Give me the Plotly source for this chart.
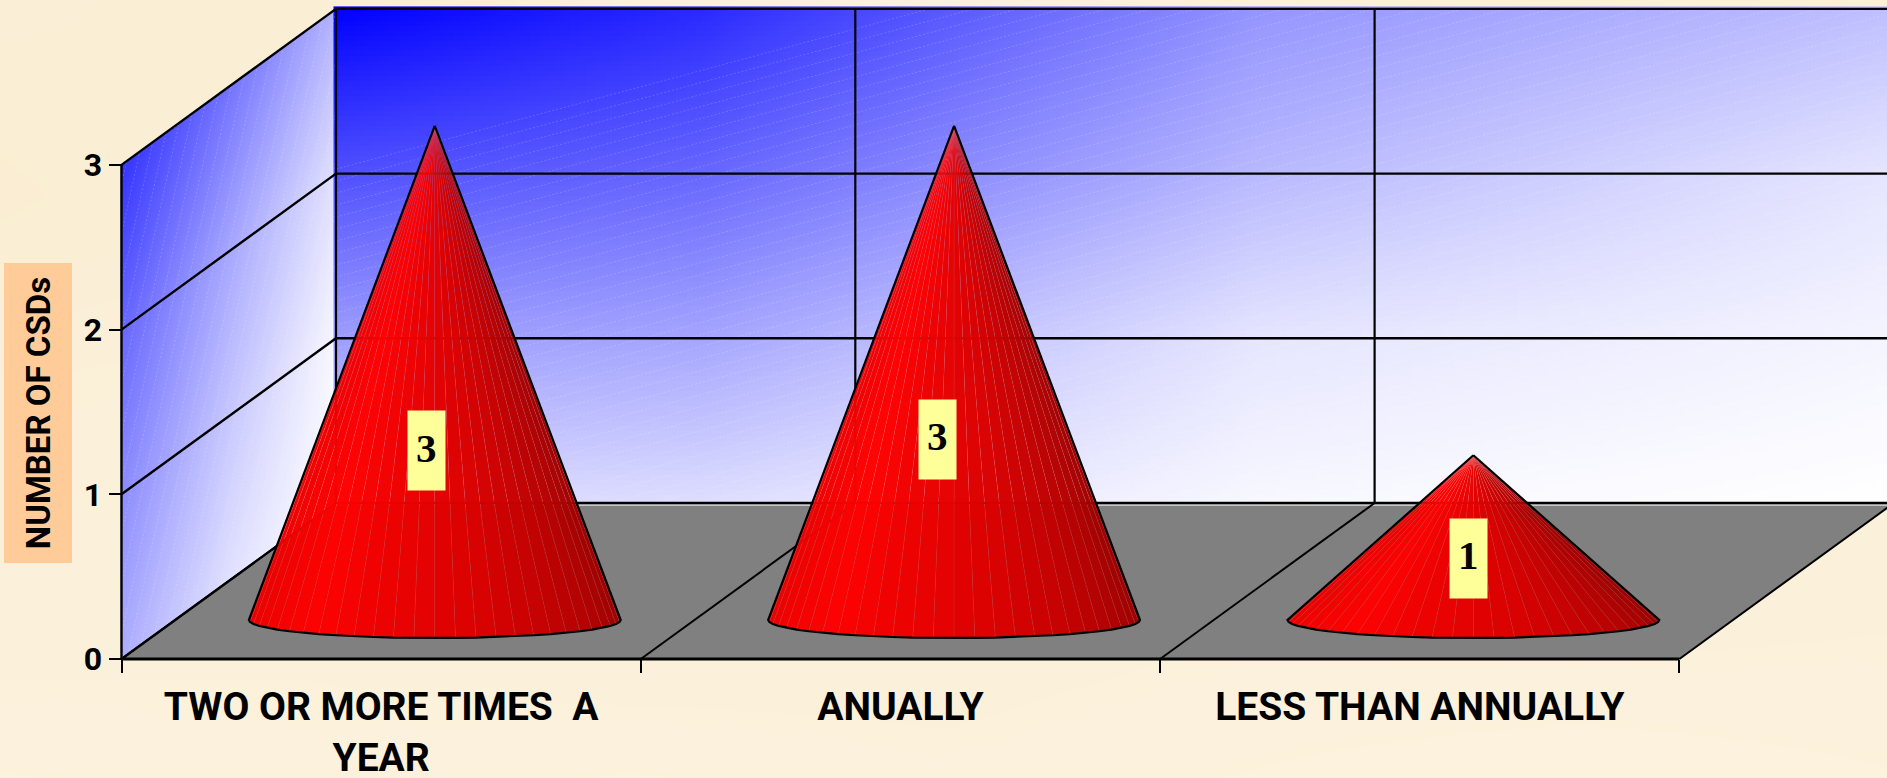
# -*- coding: utf-8 -*-
"""Pseudo-3D cone chart: number of CSDs by frequency."""
import numpy as np
import plotly.graph_objects as go

CATEGORIES = ["TWO OR MORE TIMES  A<br>YEAR", "ANUALLY", "LESS THAN ANNUALLY"]
CSD_COUNTS = [3, 3, 1]
Y_TICKS = [0, 1, 2, 3]
Y_TITLE = "NUMBER OF CSDs"

W, H = 1887, 778
X0_PX, CAT_PX = 121.5, 519.3   # front axis start, width of one category
Y0_PX, UNIT_PX = 659.0, 164.7  # front floor line, height of one count
DEPTH_X = 214.5 / CAT_PX       # how far the back wall is shifted
DEPTH_Y = 156.0 / UNIT_PX
X_RANGE = [-X0_PX / CAT_PX, (W - X0_PX) / CAT_PX]
Y_RANGE = [-(H - Y0_PX) / UNIT_PX, Y0_PX / UNIT_PX]

PAPER = "#FBF1DC"
PAPER_TONES = [[0, "#FDF4E2"], [1, "#F9ECD0"]]
BLUE_TO_WHITE = [[0, "#0000FF"], [1, "#FFFFFF"]]

# mottling of the paper, coarse reading from the picture (top row first)
PAPER_MOTTLE = [[0.65, 0.80, 0.55, 0.50, 0.55, 0.50, 0.50],
                [0.85, 0.60, 0.50, 0.50, 0.50, 0.50, 0.45],
                [0.55, 0.50, 0.50, 0.50, 0.50, 0.45, 0.45],
                [0.45, 0.40, 0.50, 0.45, 0.40, 0.45, 0.40],
                [0.30, 0.35, 0.30, 0.35, 0.30, 0.25, 0.30]]

# how far each wall has faded to white, read at a few places on the picture
BACK_U = [0, 0.235, 0.59, 1]
BACK_V = [0, 0.33, 0.67, 1]
BACK_SHADE = [[0.00, 0.16, 0.58, 0.75],
              [0.31, 0.40, 0.72, 0.90],
              [0.62, 0.65, 0.90, 0.96],
              [0.85, 0.87, 0.97, 1.00]]
SIDE_U = [0, 0.5, 1]
SIDE_V = [0, 0.33, 0.67, 1]
SIDE_SHADE = [[0.20, 0.45, 0.70],
              [0.40, 0.65, 0.88],
              [0.55, 0.78, 0.97],
              [0.68, 0.88, 1.00]]

# where the value boxes sit on the cones
BOX_X = [0.587, 1.571, 2.594]
BOX_Y = [1.263, 1.333, 0.613]

CONE_DEPTH = 0.25      # fraction of floor depth at the cone axis
CONE_RADIUS = 0.358
CONE_FLAT = 18 / UNIT_PX
FACETS = 28


def lookup(table, us, vs, u, v):
    """Bilinear read of a shade table."""
    row = [np.interp(u, us, r) for r in table]
    return float(np.interp(v, vs, row))


def facet_color(s):
    # s: 0 left rim, 1 right rim
    r = np.interp(s, [0, 0.28, 0.6, 1], [232, 255, 216, 150])
    return f"rgba({int(r)},0,0,0.985)"


def add_line(fig, x, y, width=2.0, color="#000000", dash=None):
    fig.add_trace(go.Scatter(x=x, y=y, mode="lines", line=dict(color=color, width=width, dash=dash),
                             hoverinfo="skip", showlegend=False, connectgaps=False))


def hatch(fig, inside, starts, dx, dy, length):
    """Faint banding lines, kept to the part of each line where inside() holds."""
    xs, ys = [], []
    t = np.linspace(0, length, 600)
    for sx, sy in starts:
        px, py = sx + dx * t, sy + dy * t
        mask = inside(px, py)
        if mask.any():
            idx = np.where(mask)[0]
            xs += [px[idx[0]], px[idx[-1]], None]
            ys += [py[idx[0]], py[idx[-1]], None]
    add_line(fig, xs, ys, 0.8, "rgba(255,255,255,0.22)", "2px,2px")


fig = go.Figure()

# paper
fig.add_trace(go.Heatmap(x=np.linspace(X_RANGE[0], X_RANGE[1], 7), y=np.linspace(Y_RANGE[1], Y_RANGE[0], 5),
                         z=PAPER_MOTTLE, colorscale=PAPER_TONES, zmin=0, zmax=1, zsmooth="best",
                         showscale=False, hoverinfo="skip"))

# side wall
side_x = np.linspace(0, DEPTH_X, 144)
side_y = np.linspace(0, 3 + DEPTH_Y, 360)
side_z = np.full((len(side_y), len(side_x)), np.nan)
for i, sx in enumerate(side_x):
    u = sx / DEPTH_X
    floor_y = u * DEPTH_Y
    for j, sy in enumerate(side_y):
        if floor_y <= sy <= floor_y + 3:
            side_z[j, i] = lookup(SIDE_SHADE, SIDE_U, SIDE_V, u, (3 + floor_y - sy) / 3)
fig.add_trace(go.Heatmap(x=side_x, y=side_y, z=side_z, colorscale=BLUE_TO_WHITE, zmin=0, zmax=1,
                         showscale=False, hoverinfo="skip"))

# back wall
back_x = np.linspace(DEPTH_X, 3 + DEPTH_X, 310)
back_y = np.linspace(DEPTH_Y, 3 + DEPTH_Y, 100)
back_z = [[lookup(BACK_SHADE, BACK_U, BACK_V, (bx - DEPTH_X) / 3, (3 + DEPTH_Y - by) / 3)
           for bx in back_x] for by in back_y]
fig.add_trace(go.Heatmap(x=back_x, y=back_y, z=back_z, colorscale=BLUE_TO_WHITE, zmin=0, zmax=1,
                         showscale=False, hoverinfo="skip"))

# banding on the walls
hatch(fig,
      lambda px, py: (px >= DEPTH_X) & (px <= X_RANGE[1]) & (py >= DEPTH_Y) & (py <= 3 + DEPTH_Y),
      [(DEPTH_X, DEPTH_Y + n * 12 / UNIT_PX - 3.0) for n in range(0, 70)],
      1.0, 0.27 * CAT_PX / UNIT_PX, 3.6)
hatch(fig,
      lambda px, py: (px >= 0) & (px <= DEPTH_X) & (py >= px * DEPTH_Y / DEPTH_X) & (py <= 3 + px * DEPTH_Y / DEPTH_X),
      [(n * 11 / CAT_PX - 0.9, 0) for n in range(0, 105)],
      0.22 * UNIT_PX / CAT_PX, 1.0, 4.0)

# floor
fig.add_trace(go.Scatter(x=[0, 3, 3 + DEPTH_X, DEPTH_X, 0], y=[0, 0, DEPTH_Y, DEPTH_Y, 0],
                         mode="lines", fill="toself", fillcolor="#808080",
                         line=dict(color="rgba(0,0,0,0)", width=0),
                         hoverinfo="skip", showlegend=False))

# wall frame and grid
add_line(fig, [DEPTH_X, 3 + DEPTH_X], [DEPTH_Y - 0.012] * 2, 1.5, "rgba(255,255,255,0.75)")
for tick in Y_TICKS:
    add_line(fig, [0, DEPTH_X, 3 + DEPTH_X], [tick, tick + DEPTH_Y, tick + DEPTH_Y], 2.4)
for i in range(4):
    add_line(fig, [i, i + DEPTH_X], [0, DEPTH_Y], 2.0)
    add_line(fig, [i + DEPTH_X, i + DEPTH_X], [DEPTH_Y, 3 + DEPTH_Y], 2.2)
add_line(fig, [0, 0], [0, 3], 2.4)
add_line(fig, [0, 3], [0, 0], 2.8)

# cones
for i, count in enumerate(CSD_COUNTS):
    cx = i + 0.5 + CONE_DEPTH * DEPTH_X
    cy = CONE_DEPTH * DEPTH_Y
    apex_y = cy + count
    angles = np.linspace(np.pi, 2 * np.pi, FACETS + 1)
    rim_x = cx + CONE_RADIUS * np.cos(angles)
    rim_y = cy + CONE_FLAT * np.sin(angles)
    for k in range(FACETS):
        fig.add_trace(go.Scatter(
            x=[cx, rim_x[k], rim_x[k + 1], cx], y=[apex_y, rim_y[k], rim_y[k + 1], apex_y],
            mode="lines", fill="toself", fillcolor=facet_color((k + 0.5) / FACETS),
            line=dict(width=0.5, color="rgba(255,190,190,0.14)"),
            hoverinfo="skip", showlegend=False,
        ))
    add_line(fig, [cx, *rim_x, cx], [apex_y, *rim_y, apex_y], 2.2)

# yellow box first, digit on top of it nudged up a little
annotations = []
for x, y, count in zip(BOX_X, BOX_Y, CSD_COUNTS):
    annotations.append(dict(x=x, y=y, xref="x", yref="y", text=" ", showarrow=False,
                            xanchor="center", yanchor="middle",
                            width=37, height=79, bgcolor="#FFFF99", borderpad=0))
    annotations.append(dict(x=x, y=y, xref="x", yref="y", text=str(count), showarrow=False,
                            xanchor="center", yanchor="middle", yshift=3,
                            font=dict(family="Liberation Serif", size=41, color="#000000", weight="bold")))
annotations.append(dict(
    x=37.5 / W, y=1 - 413 / H, xref="paper", yref="paper", text=f"<b>{Y_TITLE}</b>",
    xanchor="center", yanchor="middle",
    textangle=-90, showarrow=False, width=299, height=67, bgcolor="#FFCC99", borderpad=0,
    font=dict(family="Roboto, Liberation Sans", size=33, color="#000000"),
))

fig.update_layout(
    width=W, height=H,
    paper_bgcolor=PAPER, plot_bgcolor=PAPER,
    margin=dict(l=0, r=0, t=0, b=0, pad=0),
    showlegend=False,
    annotations=annotations,
    xaxis=dict(
        range=X_RANGE, domain=[0, 1], anchor="free", position=(H - Y0_PX) / H, automargin=False,
        tickmode="array", tickvals=[0.5, 1.5, 2.5], ticktext=CATEGORIES,
        ticks="", ticklen=0, ticklabelstandoff=21,
        tickfont=dict(family="Roboto, Liberation Sans", size=39, color="#000000", weight="bold"),
        minor=dict(tickmode="array", tickvals=[0, 1, 2, 3], ticks="outside", ticklen=13,
                   tickwidth=2, tickcolor="#000000", showgrid=False),
        showgrid=False, zeroline=False, showline=False, fixedrange=True,
    ),
    yaxis=dict(
        range=Y_RANGE, domain=[0, 1], anchor="free", position=X0_PX / W, automargin=False,
        tickmode="array", tickvals=Y_TICKS,
        ticks="outside", ticklen=13, tickwidth=2, tickcolor="#000000",
        tickfont=dict(family="Roboto, Liberation Sans", size=32, color="#000000", weight="bold"),
        showgrid=False, zeroline=False, showline=False, fixedrange=True,
    ),
)

fig.write_html("out.html", config=dict(displayModeBar=False),
               post_script="document.body.style.margin='0';")
